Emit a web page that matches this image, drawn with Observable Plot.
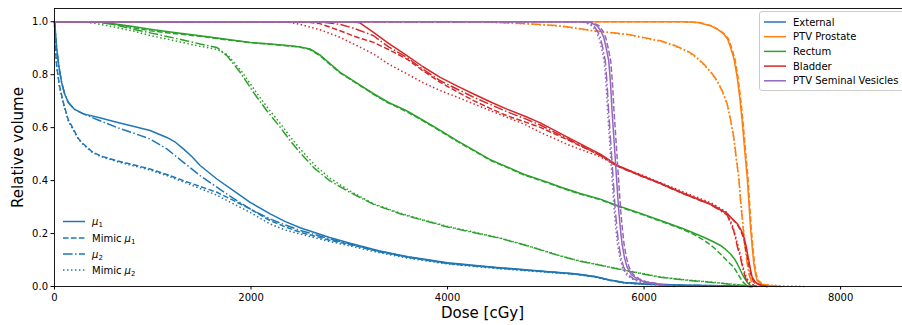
<!DOCTYPE html>
<html>
<head>
<meta charset="utf-8">
<script src="https://cdn.jsdelivr.net/npm/d3@7"></script>
<script src="https://cdn.jsdelivr.net/npm/@observablehq/plot@0.6"></script>
<style>
  html, body { margin: 0; padding: 0; background: white; }
  #wrap { position: relative; width: 902px; height: 325px; overflow: hidden; }
</style>
</head>
<body>
<div id="wrap"></div>
<script>
// ---------- categories ----------
const structures = ["External", "PTV Prostate", "Rectum", "Bladder", "PTV Seminal Vesicles"];
const structureColors = ["#1f77b4", "#ff7f0e", "#2ca02c", "#d62728", "#9467bd"];
const styles = ["mu1", "mimic1", "mu2", "mimic2"];
const xTicks = [0, 2000, 4000, 6000, 8000];
const yTicks = [0, 0.2, 0.4, 0.6, 0.8, 1.0];

// ---------- series: [dose cGy, relative volume] ----------
const ext_mu1 = [[0,1],[5,0.985],[22,0.9],[45,0.83],[73,0.77],[105,0.725],[141,0.695],[200,0.67],[294,0.652],[450,0.638],[633,0.62],[800,0.605],[973,0.589],[1143,0.563],[1230,0.545],[1312,0.52],[1400,0.49],[1482,0.457],[1652,0.406],[1821,0.362],[1991,0.318],[2195,0.274],[2350,0.245],[2500,0.222],[2800,0.185],[3009,0.163],[3300,0.135],[3600,0.112],[4000,0.09],[4500,0.072],[5000,0.057],[5300,0.048],[5500,0.038],[5650,0.025],[5800,0.015],[6000,0.01],[6400,0.005],[7000,0.002],[7100,0]];
const ext_mimic1 = [[0,1],[4,0.93],[22,0.834],[50,0.76],[90,0.695],[140,0.63],[192,0.595],[240,0.56],[294,0.538],[380,0.51],[463,0.494],[633,0.475],[800,0.46],[973,0.444],[1150,0.422],[1312,0.4],[1480,0.378],[1652,0.356],[1821,0.325],[1991,0.293],[2195,0.249],[2350,0.225],[2500,0.205],[2800,0.175],[3009,0.158],[3300,0.132],[3600,0.11],[4000,0.087],[4500,0.07],[5000,0.056],[5300,0.047],[5500,0.037],[5650,0.024],[5800,0.014],[6000,0.009],[6400,0.004],[7000,0.002],[7100,0]];
const ext_mu2 = [[0,1],[5,0.985],[22,0.9],[45,0.83],[73,0.77],[105,0.725],[141,0.695],[200,0.67],[294,0.652],[450,0.628],[633,0.601],[800,0.58],[973,0.557],[1143,0.52],[1312,0.469],[1482,0.419],[1652,0.375],[1821,0.333],[1991,0.293],[2195,0.255],[2350,0.232],[2500,0.212],[2800,0.18],[3009,0.16],[3300,0.133],[3600,0.111],[4000,0.088],[4500,0.071],[5000,0.056],[5300,0.047],[5500,0.037],[5650,0.024],[5800,0.014],[6000,0.009],[6400,0.005],[7000,0.002],[7100,0]];
const ext_mimic2 = [[0,1],[4,0.93],[22,0.83],[50,0.755],[90,0.69],[140,0.625],[192,0.59],[240,0.558],[294,0.535],[380,0.508],[463,0.492],[633,0.472],[800,0.456],[973,0.44],[1150,0.418],[1312,0.395],[1480,0.37],[1652,0.345],[1821,0.312],[1991,0.28],[2195,0.236],[2350,0.213],[2500,0.198],[2800,0.17],[3009,0.153],[3300,0.128],[3600,0.107],[4000,0.085],[4500,0.068],[5000,0.054],[5300,0.046],[5500,0.036],[5650,0.023],[5800,0.013],[6000,0.008],[6400,0.004],[7000,0.001],[7100,0]];

const pp_mu1 = [[0,1],[6400,1],[6550,0.997],[6676,0.985],[6760,0.968],[6812,0.953],[6850,0.935],[6880,0.903],[6915,0.86],[6948,0.79],[6975,0.71],[6998,0.626],[7025,0.51],[7050,0.41],[7068,0.31],[7083,0.224],[7100,0.15],[7117,0.086],[7135,0.045],[7151,0.023],[7200,0.008],[7300,0.002],[7350,0]];
const pp_mimic1 = [[0,1],[6400,1],[6560,0.997],[6685,0.985],[6770,0.968],[6820,0.953],[6860,0.935],[6890,0.903],[6925,0.86],[6956,0.79],[6983,0.71],[7006,0.626],[7033,0.51],[7058,0.41],[7075,0.31],[7090,0.224],[7107,0.15],[7124,0.086],[7142,0.045],[7160,0.023],[7210,0.008],[7320,0.002],[7380,0]];
const pp_mu2 = [[0,1],[4300,1],[4800,0.993],[5148,0.985],[5487,0.966],[5827,0.953],[6167,0.928],[6300,0.912],[6438,0.89],[6530,0.868],[6608,0.84],[6680,0.81],[6744,0.777],[6800,0.735],[6846,0.69],[6880,0.63],[6913,0.563],[6940,0.48],[6964,0.41],[6980,0.33],[6998,0.26],[7015,0.195],[7032,0.136],[7050,0.085],[7066,0.048],[7090,0.02],[7150,0.007],[7300,0.002],[7400,0]];
const pp_mimic2 = [[0,1],[4300,1],[4800,0.992],[5148,0.983],[5487,0.965],[5827,0.951],[6167,0.926],[6300,0.91],[6438,0.888],[6530,0.865],[6608,0.838],[6680,0.808],[6744,0.775],[6800,0.733],[6846,0.688],[6880,0.628],[6913,0.56],[6940,0.478],[6966,0.405],[6984,0.325],[7002,0.255],[7020,0.19],[7038,0.13],[7056,0.08],[7072,0.045],[7100,0.02],[7180,0.008],[7400,0.003],[7650,0]];

const rec_mu1 = [[0,1],[450,1],[600,0.992],[800,0.982],[973,0.972],[1200,0.96],[1482,0.947],[1750,0.934],[1991,0.922],[2195,0.916],[2400,0.909],[2500,0.905],[2600,0.897],[2700,0.875],[2800,0.843],[2907,0.809],[3050,0.775],[3247,0.728],[3400,0.695],[3587,0.663],[3750,0.628],[3926,0.59],[4100,0.55],[4265,0.515],[4434,0.479],[4605,0.452],[4775,0.424],[5000,0.396],[5148,0.376],[5350,0.351],[5555,0.33],[5725,0.306],[5950,0.278],[6167,0.249],[6400,0.218],[6608,0.186],[6700,0.17],[6778,0.155],[6830,0.14],[6880,0.123],[6920,0.104],[6948,0.086],[6975,0.066],[6998,0.048],[7025,0.03],[7050,0.016],[7080,0.005],[7100,0]];
const rec_mimic1 = [[0,1],[430,1],[600,0.99],[800,0.978],[973,0.966],[1200,0.956],[1482,0.945],[1750,0.932],[1991,0.921],[2195,0.915],[2400,0.908],[2500,0.904],[2600,0.895],[2700,0.872],[2800,0.84],[2907,0.807],[3050,0.773],[3247,0.726],[3400,0.693],[3587,0.66],[3750,0.626],[3926,0.587],[4100,0.548],[4265,0.513],[4434,0.477],[4605,0.45],[4775,0.422],[5000,0.394],[5148,0.374],[5350,0.349],[5555,0.328],[5725,0.304],[5950,0.276],[6167,0.247],[6400,0.215],[6500,0.198],[6608,0.175],[6700,0.15],[6778,0.123],[6850,0.095],[6913,0.073],[6960,0.045],[6998,0.02],[7040,0.005],[7070,0]];
const rec_mu2 = [[0,1],[400,1],[600,0.99],[800,0.972],[973,0.958],[1200,0.94],[1482,0.916],[1652,0.903],[1754,0.872],[1889,0.809],[2025,0.733],[2161,0.664],[2300,0.6],[2400,0.55],[2500,0.505],[2650,0.445],[2800,0.4],[3009,0.355],[3250,0.31],[3518,0.275],[3750,0.25],[4000,0.225],[4250,0.205],[4536,0.182],[4800,0.155],[5148,0.115],[5350,0.095],[5555,0.08],[5725,0.067],[5950,0.05],[6167,0.035],[6400,0.025],[6676,0.016],[6900,0.008],[7100,0]];
const rec_mimic2 = [[0,1],[300,1],[500,0.988],[800,0.965],[973,0.948],[1200,0.93],[1482,0.907],[1652,0.896],[1760,0.875],[1900,0.815],[2040,0.74],[2175,0.672],[2300,0.615],[2400,0.565],[2500,0.52],[2650,0.458],[2800,0.41],[3009,0.36],[3250,0.312],[3518,0.277],[3750,0.252],[4000,0.227],[4250,0.207],[4536,0.183],[4800,0.156],[5148,0.116],[5350,0.096],[5555,0.081],[5725,0.068],[5950,0.051],[6167,0.036],[6400,0.026],[6676,0.017],[6900,0.009],[7100,0]];

const bl_mu1 = [[0,1],[3050,1],[3111,0.995],[3247,0.96],[3400,0.918],[3587,0.872],[3750,0.83],[3926,0.79],[4100,0.757],[4265,0.727],[4450,0.695],[4605,0.67],[4800,0.641],[4944,0.618],[5200,0.568],[5555,0.5],[5725,0.458],[5950,0.422],[6167,0.39],[6400,0.352],[6676,0.312],[6846,0.276],[6948,0.237],[6985,0.215],[7015,0.188],[7040,0.15],[7066,0.098],[7085,0.06],[7100,0.035],[7130,0.018],[7151,0.012],[7200,0.004],[7250,0]];
const bl_mimic1 = [[0,1],[2550,1],[2700,0.993],[2907,0.966],[3050,0.945],[3247,0.922],[3400,0.895],[3587,0.859],[3750,0.815],[3926,0.771],[4100,0.735],[4265,0.702],[4450,0.67],[4605,0.645],[4800,0.62],[4944,0.601],[5200,0.558],[5555,0.495],[5725,0.455],[5950,0.42],[6167,0.388],[6400,0.35],[6676,0.31],[6846,0.274],[6948,0.235],[6985,0.21],[7015,0.18],[7040,0.13],[7066,0.08],[7090,0.04],[7120,0.015],[7200,0.003],[7250,0]];
const bl_mu2 = [[0,1],[2700,1],[2907,0.99],[3050,0.975],[3247,0.947],[3400,0.905],[3587,0.865],[3750,0.82],[3926,0.777],[4100,0.745],[4265,0.715],[4450,0.685],[4605,0.66],[4800,0.632],[4944,0.61],[5200,0.562],[5555,0.495],[5725,0.455],[5950,0.421],[6167,0.389],[6400,0.351],[6676,0.31],[6846,0.27],[6913,0.21],[6950,0.15],[6981,0.11],[7010,0.06],[7035,0.03],[7070,0.01],[7150,0]];
const bl_mimic2 = [[0,1],[2350,1],[2500,0.99],[2700,0.97],[2907,0.941],[3050,0.915],[3247,0.878],[3400,0.84],[3587,0.803],[3750,0.77],[3926,0.74],[4100,0.715],[4265,0.69],[4450,0.662],[4605,0.639],[4800,0.61],[4944,0.582],[5100,0.557],[5250,0.532],[5555,0.49],[5725,0.455],[5950,0.425],[6167,0.392],[6400,0.357],[6676,0.317],[6846,0.28],[6900,0.23],[6930,0.19],[6981,0.12],[7010,0.07],[7040,0.035],[7080,0.012],[7150,0]];

const sv_mu1 = [[0,1],[5400,1],[5453,0.997],[5522,0.985],[5560,0.965],[5590,0.94],[5615,0.9],[5640,0.853],[5658,0.77],[5674,0.664],[5691,0.57],[5708,0.475],[5725,0.38],[5742,0.287],[5760,0.215],[5776,0.161],[5800,0.11],[5827,0.073],[5870,0.045],[5929,0.029],[6000,0.018],[6099,0.012],[6200,0.005],[6300,0]];
const sv_mimic1 = [[0,1],[5420,1],[5473,0.997],[5542,0.985],[5580,0.965],[5610,0.94],[5635,0.9],[5660,0.853],[5678,0.77],[5694,0.664],[5711,0.57],[5728,0.475],[5745,0.38],[5762,0.287],[5780,0.215],[5796,0.161],[5820,0.11],[5847,0.073],[5890,0.045],[5950,0.029],[6020,0.018],[6120,0.012],[6220,0.005],[6320,0]];
const sv_mu2 = [[0,1],[5360,1],[5418,0.997],[5487,0.985],[5525,0.965],[5555,0.94],[5580,0.9],[5605,0.853],[5623,0.77],[5639,0.664],[5656,0.57],[5673,0.475],[5690,0.38],[5707,0.287],[5725,0.215],[5741,0.161],[5765,0.11],[5792,0.073],[5835,0.045],[5894,0.029],[5965,0.018],[6064,0.012],[6165,0.005],[6270,0]];
const sv_mimic2 = [[0,1],[5350,1],[5408,0.996],[5477,0.983],[5515,0.962],[5545,0.935],[5570,0.895],[5595,0.848],[5613,0.765],[5629,0.66],[5646,0.565],[5663,0.47],[5680,0.375],[5697,0.283],[5715,0.21],[5731,0.157],[5755,0.107],[5782,0.07],[5825,0.043],[5884,0.027],[5955,0.017],[6054,0.011],[6155,0.004],[6260,0]];

// ---------- build table ----------
const seriesByStructure = [
  [ext_mu1, ext_mimic1, ext_mu2, ext_mimic2],
  [pp_mu1, pp_mimic1, pp_mu2, pp_mimic2],
  [rec_mu1, rec_mimic1, rec_mu2, rec_mimic2],
  [bl_mu1, bl_mimic1, bl_mu2, bl_mimic2],
  [sv_mu1, sv_mimic1, sv_mu2, sv_mimic2]
];
const dashFor = {mu1: null, mimic1: "5.55,2.4", mu2: "9.6,2.4,1.5,2.4", mimic2: "1.5,2.475"};

const rows = [];
structures.forEach((s, i) => styles.forEach((st, j) => {
  seriesByStructure[i][j].forEach(([d, v]) => rows.push({structure: s, style: st, dose: d, vol: v}));
}));

const lineMarks = [];
structures.forEach(s => styles.forEach(st => {
  const opts = {x: "dose", y: "vol", stroke: "structure", strokeWidth: 1.5,
                strokeLinejoin: "round", strokeLinecap: st === "mu1" ? "square" : "butt"};
  if (dashFor[st]) opts.strokeDasharray = dashFor[st];
  lineMarks.push(Plot.line(rows.filter(r => r.structure === s && r.style === st), opts));
}));

const chart = Plot.plot({
  width: 902,
  height: 325,
  marginLeft: 54,
  marginRight: 0,
  marginTop: 8,
  marginBottom: 39,
  style: {fontFamily: "DejaVu Sans", fontSize: "10px", background: "white", color: "black"},
  x: {domain: [0, 8630]},
  y: {domain: [0, 1.05]},
  color: {domain: structures, range: structureColors},
  marks: [
    ...lineMarks,
    Plot.ruleY([0, 1.05], {stroke: "black", strokeWidth: 0.9}),
    Plot.ruleX([0], {stroke: "black", strokeWidth: 0.9}),
    Plot.axisX({ticks: xTicks, tickSize: 3.5, tickPadding: 3.5, tickFormat: d => String(d), label: null, fontSize: 10}),
    Plot.axisY({ticks: yTicks, tickSize: 3.5, tickPadding: 3, tickFormat: d3.format(".1f"), label: null, fontSize: 10}),
    Plot.text(["Relative volume"], {frameAnchor: "left", dx: -36, rotate: -90, fontSize: 15, fill: "black", textAnchor: "middle", lineAnchor: "middle"}),
    Plot.text(["Dose [cGy]"], {frameAnchor: "bottom", dy: 27, dx: 4, fontSize: 15, fill: "black", textAnchor: "middle", lineAnchor: "middle"})
  ]
});

document.getElementById("wrap").appendChild(chart);

// ---------- legends ----------
const svg = d3.select(chart);
const ns = "DejaVu Sans";

// structure (colour) legend, top right
const lg = svg.append("g").attr("text-anchor", "start");
lg.append("rect").attr("x", 759.5).attr("y", 11.5).attr("width", 150).attr("height", 79)
  .attr("rx", 2.5).attr("fill", "white").attr("fill-opacity", 0.8)
  .attr("stroke", "#cccccc").attr("stroke-width", 1);
const topRows = [22, 36.7, 51.4, 66.1, 80.8];
structures.forEach((s, i) => {
  lg.append("line").attr("x1", 764).attr("x2", 786).attr("y1", topRows[i]).attr("y2", topRows[i])
    .attr("stroke", structureColors[i]).attr("stroke-width", 1.5);
  lg.append("text").attr("x", 793).attr("y", topRows[i] + 3.6).attr("text-anchor", "start")
    .attr("font-family", ns).attr("font-size", 10).attr("fill", "black").text(s);
});

// line-style legend, bottom left
const ls = svg.append("g").attr("text-anchor", "start");
const botRows = [221.5, 238, 254, 270];
const botLabels = [["", "1"], ["Mimic ", "1"], ["", "2"], ["Mimic ", "2"]];
styles.forEach((st, j) => {
  const ln = ls.append("line").attr("x1", 63).attr("x2", 85).attr("y1", botRows[j]).attr("y2", botRows[j])
    .attr("stroke", "#1f77b4").attr("stroke-width", 1.5);
  if (dashFor[st]) ln.attr("stroke-dasharray", dashFor[st]);
  const t = ls.append("text").attr("x", 92).attr("y", botRows[j] + 3.6).attr("text-anchor", "start")
    .attr("font-family", ns).attr("font-size", 10).attr("fill", "black");
  if (botLabels[j][0]) t.append("tspan").text(botLabels[j][0]);
  t.append("tspan").attr("font-style", "italic").text("μ");
  t.append("tspan").attr("font-size", 7).attr("dy", 2).text(botLabels[j][1]);
});
</script>
</body>
</html>
